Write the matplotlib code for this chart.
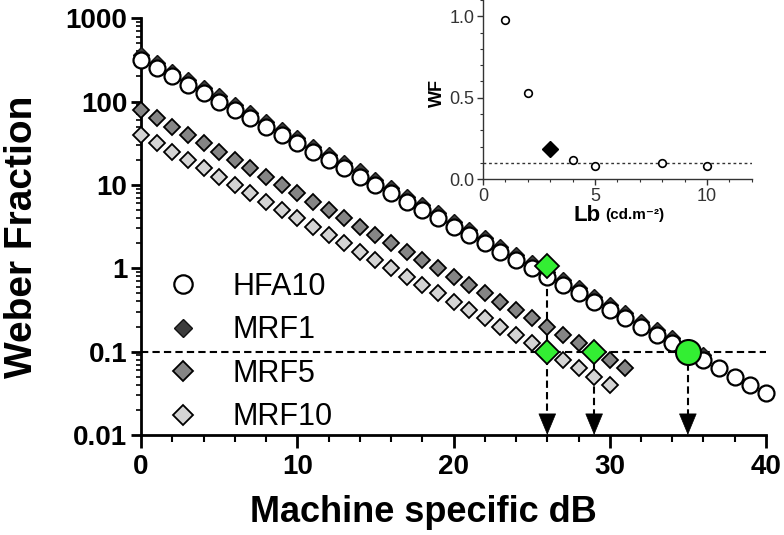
import matplotlib
matplotlib.use("Agg")
import matplotlib.pyplot as plt
from matplotlib.ticker import FixedLocator, MultipleLocator, FuncFormatter, LogLocator, NullFormatter

plt.rcParams['font.family'] = ['Liberation Sans', 'DejaVu Sans']

# main panel data (machine specific dB vs Weber fraction)
db_hfa10 = list(range(0, 41))
wf_hfa10 = [316, 251, 200, 158, 126, 100, 79.4, 63.1, 50.1, 39.8,
            31.6, 25.1, 20.0, 15.8, 12.6, 10.0, 7.94, 6.31, 5.01, 3.98,
            3.16, 2.51, 2.00, 1.58, 1.26, 1.00, 0.794, 0.631, 0.501, 0.398,
            0.316, 0.251, 0.200, 0.158, 0.126, 0.100, 0.0794, 0.0631, 0.0501, 0.0398,
            0.0316]
db_mrf1 = list(range(0, 37))
wf_mrf1 = [363, 288, 229, 182, 145, 115, 91.2, 72.4, 57.5, 45.7,
           36.3, 28.8, 22.9, 18.2, 14.5, 11.5, 9.12, 7.24, 5.75, 4.57,
           3.63, 2.88, 2.29, 1.82, 1.45, 1.15, 0.912, 0.724, 0.575, 0.457,
           0.363, 0.288, 0.229, 0.182, 0.145, 0.115, 0.0912]
db_mrf5 = list(range(0, 32))
wf_mrf5 = [79.4, 63.1, 50.1, 39.8, 31.6, 25.1, 20.0, 15.8, 12.6, 10.0,
           7.94, 6.31, 5.01, 3.98, 3.16, 2.51, 2.00, 1.58, 1.26, 1.00,
           0.794, 0.631, 0.501, 0.398, 0.316, 0.251, 0.200, 0.158, 0.126, 0.100,
           0.0794, 0.0631]
db_mrf10 = list(range(0, 31))
wf_mrf10 = [39.8, 31.6, 25.1, 20.0, 15.8, 12.6, 10.0, 7.94, 6.31, 5.01,
            3.98, 3.16, 2.51, 2.00, 1.58, 1.26, 1.00, 0.794, 0.631, 0.501,
            0.398, 0.316, 0.251, 0.200, 0.158, 0.126, 0.100, 0.0794, 0.0631, 0.0501,
            0.0398]

# highlighted points and arrows
hl_diamond_db = [26, 26, 29]
hl_diamond_wf = [1.05, 0.1, 0.1]
hl_circle_db = [35]
hl_circle_wf = [0.1]
arrow_db = [26, 29, 35]
arrow_from = [1.05, 0.1, 0.1]
criterion = 0.1

# inset data
lb = [1, 2, 4, 5, 8, 10]
wf_inset = [0.98, 0.53, 0.115, 0.082, 0.10, 0.082]
lb_mrf = [3]
wf_inset_mrf = [0.185]

GREEN = '#33ee33'

fig = plt.figure(figsize=(7.84, 5.35), dpi=100)
ax = fig.add_axes([0.18, 0.187, 0.797, 0.779])

ax.plot(db_mrf1, wf_mrf1, 'D', ms=8, mfc='#3c3c3c', mec='#111111', mew=1.0,
        label='MRF1', clip_on=False, zorder=3)
ax.plot(db_hfa10, wf_hfa10, 'o', ms=11.5, mfc='white', mec='black', mew=1.6,
        label='HFA10', clip_on=False, zorder=4)
ax.plot(db_mrf5, wf_mrf5, 'D', ms=8.5, mfc='#858585', mec='black', mew=1.3,
        label='MRF5', clip_on=False, zorder=3)
ax.plot(db_mrf10, wf_mrf10, 'D', ms=8.5, mfc='#d4d4d4', mec='black', mew=1.3,
        label='MRF10', clip_on=False, zorder=3)

ax.axhline(criterion, color='black', lw=1.5, dashes=(3.5, 2), zorder=2)
for x, y0 in zip(arrow_db, arrow_from):
    ax.plot([x, x], [y0, 0.0165], color='black', lw=1.5, dashes=(3.5, 2), zorder=2)
    ax.annotate('', xy=(x, 0.01), xytext=(x, 0.0175),
                arrowprops=dict(arrowstyle='-|>,head_length=1.45,head_width=0.6',
                                color='black', lw=0.5, shrinkA=0, shrinkB=0),
                annotation_clip=False, zorder=6)

ax.plot(hl_diamond_db, hl_diamond_wf, 'D', ms=12, mfc=GREEN, mec='black', mew=1.3,
        zorder=5, clip_on=False)
ax.plot(hl_circle_db, hl_circle_wf, 'o', ms=18, mfc=GREEN, mec='black', mew=1.5,
        zorder=5, clip_on=False)

ax.set_yscale('log')
ax.set_ylim(0.01, 1000)
ax.set_xlim(0, 40)
ax.yaxis.set_major_locator(FixedLocator([0.01, 0.1, 1, 10, 100, 1000]))
ax.yaxis.set_major_formatter(FuncFormatter(lambda v, p: f'{v:g}'))
ax.yaxis.set_minor_locator(LogLocator(base=10, subs=range(2, 10)))
ax.yaxis.set_minor_formatter(NullFormatter())
ax.xaxis.set_major_locator(MultipleLocator(10))
ax.xaxis.set_minor_locator(MultipleLocator(2))

for s in ['top', 'right']:
    ax.spines[s].set_visible(False)
for s in ['left', 'bottom']:
    ax.spines[s].set_linewidth(2)
ax.tick_params(axis='y', which='major', length=7, width=2, labelsize=20, pad=3)
ax.tick_params(axis='y', which='minor', length=3.5, width=1.2)
ax.tick_params(axis='x', which='major', length=9, width=2, labelsize=20, pad=5)
ax.tick_params(axis='x', which='minor', length=5, width=1.5)
for t in ax.get_xticklabels() + ax.get_yticklabels():
    t.set_fontweight('bold')

ax.set_xlabel('Machine specific dB', fontsize=26, fontweight='bold')
ax.set_ylabel('Weber Fraction', fontsize=28, fontweight='bold')
ax.xaxis.set_label_coords(0.451, -0.187)
ax.xaxis.label.set_va('center')
ax.yaxis.set_label_coords(-0.19, 0.475)
ax.yaxis.label.set_va('center')

handles, labels = ax.get_legend_handles_labels()
order = [labels.index(n) for n in ['HFA10', 'MRF1', 'MRF5', 'MRF10']]
ax.legend([handles[i] for i in order], [labels[i] for i in order],
          loc='upper left', bbox_to_anchor=(0.043, 0.391), frameon=False,
          fontsize=22, handlelength=1.0, handletextpad=1.1, labelspacing=0.44,
          borderpad=0, borderaxespad=0, markerscale=1.15)

# inset
ins = fig.add_axes([0.616, 0.665, 0.343, 0.335])
ins.plot(lb, wf_inset, 'o', ms=5.5, mfc='white', mec='black', mew=1.2, zorder=3)
ins.plot(lb_mrf, wf_inset_mrf, 'D', ms=8, mfc='black', mec='black', zorder=3)
ins.axhline(criterion, color='#333333', lw=1, ls=(0, (2, 2)), zorder=2)
ins.set_xlim(0, 12)
ins.set_ylim(0, 1.1)
ins.xaxis.set_major_locator(MultipleLocator(5))
ins.xaxis.set_minor_locator(MultipleLocator(1))
ins.yaxis.set_major_locator(FixedLocator([0.0, 0.5, 1.0]))
ins.yaxis.set_minor_locator(MultipleLocator(0.1))
ins.yaxis.set_major_formatter(FuncFormatter(lambda v, p: f'{v:.1f}'))
for s in ['top', 'right']:
    ins.spines[s].set_visible(False)
for s in ['left', 'bottom']:
    ins.spines[s].set_linewidth(1.0)
    ins.spines[s].set_color('#333333')
ins.tick_params(which='major', length=4, width=1, labelsize=13, colors='#333333', pad=2)
ins.tick_params(which='minor', length=2.5, width=0.8, colors='#333333')
ins.set_ylabel('WF', fontsize=13, fontweight='bold')
ins.yaxis.set_label_coords(-0.17, 0.48)
ins.yaxis.label.set_va('center')
ins.text(0.436, -0.2, 'Lb', transform=ins.transAxes, ha='right', va='center',
         fontsize=16, fontweight='bold')
ins.text(0.455, -0.2, '(cd.m\u207b\u00b2)', transform=ins.transAxes, ha='left', va='center',
         fontsize=11, fontweight='bold', family=['Liberation Sans', 'DejaVu Sans'])

fig.savefig('out.png', dpi=100)
